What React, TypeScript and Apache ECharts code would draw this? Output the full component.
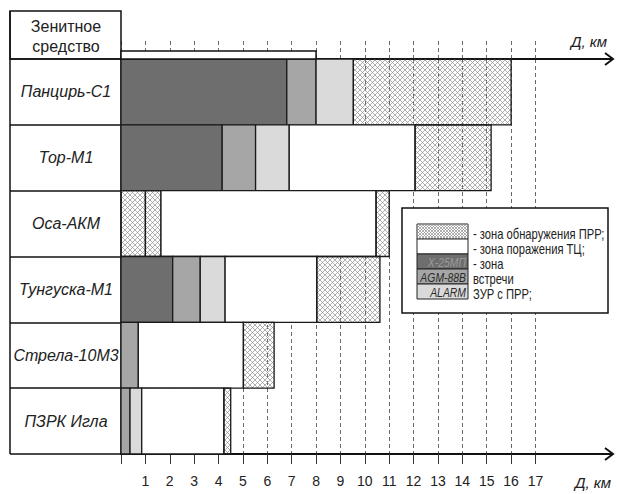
import React, { useEffect, useRef } from "react";
import * as echarts from "echarts";

// ---------- data ----------
const categories = ["Панцирь-С1", "Тор-М1", "Оса-АКМ", "Тунгуска-М1", "Стрела-10М3", "ПЗРК Игла"];
const xTicks = [1, 2, 3, 4, 5, 6, 7, 8, 9, 10, 11, 12, 13, 14, 15, 16, 17];
// zone types: 0 = Х-25МП meet zone, 1 = AGM-88B meet zone, 2 = ALARM meet zone, 3 = kill zone, 4 = detection zone
const pantsir = [[0, 6.8, 0], [6.8, 8.0, 1], [8.0, 9.53, 2], [9.53, 16.0, 4]];
const tor = [[0, 4.15, 0], [4.15, 5.52, 1], [5.52, 6.9, 2], [6.9, 12.06, 3], [12.06, 15.18, 4]];
const osa = [[0, 1.0, 4], [1.0, 1.64, 4], [1.64, 10.46, 3], [10.46, 11.0, 4]];
const tunguska = [[0, 2.12, 0], [2.12, 3.25, 1], [3.25, 4.27, 2], [4.27, 8.03, 3], [8.03, 10.62, 4]];
const strela = [[0, 0.71, 1], [0.71, 5.02, 3], [5.02, 6.28, 4]];
const igla = [[0, 0.37, 1], [0.37, 0.85, 2], [0.85, 4.22, 3], [4.22, 4.5, 4]];
const rows = [pantsir, tor, osa, tunguska, strela, igla];
const legendTexts = ["- зона обнаружения ПРР;", "- зона поражения ТЦ;", "- зона", "встречи", "ЗУР с ПРР;"];
const swatchLabels = ["", "", "Х-25МП", "AGM-88B", "ALARM"];

// ---------- styles ----------
const zoneFill = ["#6e6e6e", "#a6a6a6", "#dadada", "#ffffff", "none"];
const HATCH = 4;
const FONT = "'Liberation Sans', Arial, sans-serif";
const GL = 121, GT = 59, GW = 414.5, GH = 395, XMAX = 17;
const px = (km: number) => GL + (km * GW) / XMAX;

function hatchLines(x0: number, y0: number, x1: number, y1: number, s = 5, z = 0) {
  const out: any[] = [];
  const st = { stroke: "#8e8e8e", lineWidth: 0.7 };
  for (let c = Math.floor((y0 - x1) / s) * s; c <= y1 - x0; c += s) {
    const xa = Math.max(x0, y0 - c), xb = Math.min(x1, y1 - c);
    if (xb > xa) out.push({ type: "line", z2: z, shape: { x1: xa, y1: xa + c, x2: xb, y2: xb + c }, style: st, silent: true });
  }
  for (let c = Math.floor((x0 + y0) / s) * s; c <= x1 + y1; c += s) {
    const xa = Math.max(x0, c - y1), xb = Math.min(x1, c - y0);
    if (xb > xa) out.push({ type: "line", z2: z, shape: { x1: xa, y1: c - xa, x2: xb, y2: c - xb }, style: st, silent: true });
  }
  return out;
}

const segData: number[][] = [];
rows.forEach((r, i) => r.forEach((s) => segData.push([s[0], s[1], i, s[2]])));

function renderItem(params: any, api: any) {
  const a = api.coord([api.value(0), api.value(2)]);
  const b = api.coord([api.value(1), api.value(2)]);
  const h = api.size([0, 1])[1];
  const x0 = a[0], x1 = b[0], y0 = a[1] - h / 2, y1 = a[1] + h / 2;
  const t = api.value(3);
  const children: any[] = [];
  if (t === HATCH) {
    children.push(...hatchLines(x0, y0, x1, y1, 5, 1));
    children.push({ type: "rect", z2: 2, shape: { x: x0, y: y0, width: x1 - x0, height: h }, style: { fill: "none", stroke: "#1a1a1a", lineWidth: 1.3 } });
  } else {
    children.push({ type: "rect", z2: 2, shape: { x: x0, y: y0, width: x1 - x0, height: h }, style: { fill: zoneFill[t], stroke: "#1a1a1a", lineWidth: 1.3 } });
  }
  return { type: "group", children };
}

function txt(x: number, y: number, text: string, size: number, opts: any = {}) {
  return {
    type: "text",
    x,
    y,
    z: 110,
    scaleX: opts.scaleX || 1,
    style: {
      text,
      fontSize: size,
      fontFamily: FONT,
      fontStyle: opts.italic ? "italic" : "normal",
      fill: opts.fill || "#222",
      textAlign: opts.align || "left",
      align: opts.align || "left",
      textVerticalAlign: "middle",
      verticalAlign: "middle",
      lineHeight: opts.lineHeight,
    },
  };
}

export default function App() {
  const ref = useRef<HTMLDivElement>(null);
  useEffect(() => {
    document.body.style.margin = "0";
    const chart = echarts.init(ref.current!, undefined, { renderer: "svg" });
    const lineStyle = { stroke: "#111", lineWidth: 2 };
    const graphic: any[] = [];
    // label column
    graphic.push({ type: "line", z: 100, shape: { x1: 10, y1: 11, x2: 10, y2: 454 }, style: { stroke: "#111", lineWidth: 1.5 } });
    graphic.push({ type: "rect", z: 100, shape: { x: 10, y: 11, width: 111, height: 48 }, style: { fill: "none", stroke: "#111", lineWidth: 1.5 } });
    graphic.push(txt(66, 36, "Зенитное\nсредство", 16, { align: "center", lineHeight: 20 }));
    // bracket on top axis
    graphic.push({ type: "rect", z: 100, shape: { x: GL, y: 51, width: px(8) - GL, height: 8 }, style: { fill: "#fff", stroke: "#111", lineWidth: 1.5 } });
    // axis extensions with arrows
    [GT, GT + GH].forEach((y) => {
      graphic.push({ type: "line", z: 100, shape: { x1: px(XMAX), y1: y, x2: 613, y2: y }, style: lineStyle });
      graphic.push({ type: "polyline", z: 100, shape: { points: [[605, y - 6], [613, y], [605, y + 6]] }, style: { fill: "none", ...lineStyle } });
    });
    graphic.push(txt(589, 41, "Д, км", 15, { align: "center", italic: true }));
    graphic.push(txt(593, 482, "Д, км", 15, { align: "center", italic: true }));
    // legend
    graphic.push({ type: "rect", z: 100, shape: { x: 402, y: 208, width: 206, height: 105 }, style: { fill: "#fff", stroke: "#111", lineWidth: 1.5 } });
    const swFill = ["#fff", "#fff", zoneFill[0], zoneFill[1], zoneFill[2]];
    const swTextFill = ["", "", "#9a9a9a", "#2a2a2a", "#2a2a2a"];
    legendTexts.forEach((t, i) => {
      const y = 224 + i * 15;
      graphic.push({ type: "rect", z: 101, shape: { x: 417, y, width: 51, height: 15 }, style: { fill: swFill[i], stroke: "#222", lineWidth: 1 } });
      if (i === 0) hatchLines(417, y, 468, y + 15, 3).forEach((l) => graphic.push({ ...l, z: 102 }));
      if (swatchLabels[i]) graphic.push(txt(466, y + 8, swatchLabels[i], 13, { align: "right", italic: true, fill: swTextFill[i], scaleX: 0.8 }));
      graphic.push(txt(473, y + 11, t, 14, { scaleX: 0.8 }));
    });

    chart.setOption({
      animation: false,
      grid: { left: GL, top: GT, width: GW, height: GH },
      xAxis: [
        {
          type: "value",
          position: "bottom",
          min: 0,
          max: XMAX,
          interval: 1,
          axisLine: { show: true, lineStyle: { color: "#111", width: 2 } },
          axisTick: { show: true, length: 10, lineStyle: { color: "#333", width: 1 } },
          axisLabel: {
            formatter: (v: number) => (xTicks.indexOf(v) >= 0 ? String(v) : ""),
            fontSize: 14,
            color: "#222",
            margin: 20,
            fontFamily: FONT,
          },
          splitLine: { show: true, lineStyle: { color: "#444", width: 0.8, type: [4, 3] } },
        },
        {
          type: "value",
          position: "top",
          min: 0,
          max: XMAX,
          interval: 1,
          axisLine: { show: true, lineStyle: { color: "#111", width: 2 } },
          axisTick: { show: true, length: 19, lineStyle: { color: "#444", width: 0.8, type: [4, 3] } },
          axisLabel: { show: false },
          splitLine: { show: false },
        },
      ],
      yAxis: {
        type: "category",
        inverse: true,
        data: categories,
        axisLine: { show: true, lineStyle: { color: "#111", width: 1.5 } },
        axisTick: { show: true, length: 111, lineStyle: { color: "#111", width: 1.5 } },
        axisLabel: { margin: 55, align: "center", fontSize: 16, fontStyle: "italic", color: "#222", fontFamily: FONT },
        splitLine: { show: false },
      },
      series: [
        {
          type: "custom",
          renderItem,
          encode: { x: [0, 1], y: 2 },
          data: segData,
          xAxisIndex: 0,
          z: 5,
        },
      ],
      graphic,
    });
    return () => chart.dispose();
  }, []);
  return <div ref={ref} style={{ width: 617, height: 494 }} />;
}
